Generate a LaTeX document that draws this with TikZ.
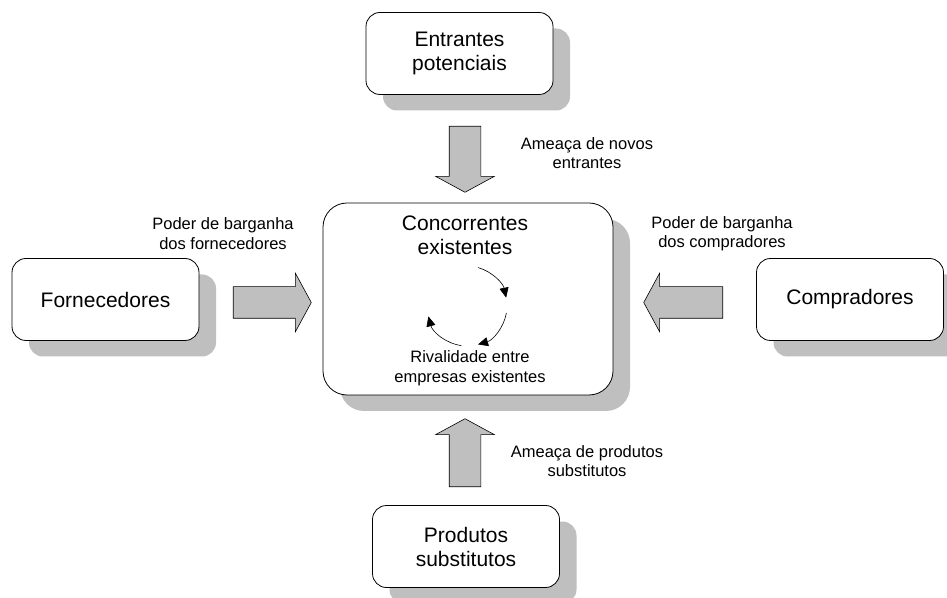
\documentclass[tikz,border=0pt]{standalone}
\usepackage{fontspec}
\setmainfont{Liberation Sans}
\usetikzlibrary{arrows.meta,shapes.arrows,shadows,positioning}

\tikzset{
  caixa/.style={draw, fill=white, line width=0.8pt, rounded corners=14pt,
    minimum width=187pt, minimum height=82pt, align=center,
    font=\fontsize{21}{24}\selectfont,
    drop shadow={shadow xshift=17pt, shadow yshift=-16pt, fill=black!25, opacity=1}},
  seta/.style={single arrow, draw, fill=black!25, line width=0.6pt,
    inner xsep=0pt, inner ysep=15.5pt, text height=0pt, text depth=0pt,
    minimum width=0pt, single arrow head extend=13.5pt, single arrow tip angle=123},
  rotulo/.style={align=center, font=\fontsize{16.5}{19.5}\selectfont},
}

\begin{document}
\begin{tikzpicture}[x=1pt,y=1pt]
\useasboundingbox (0,0) rectangle (947,597);

% caixas
\node[caixa] (entr) at (459.5,543.5) {Entrantes\\potenciais};
\node[caixa, minimum width=290pt, minimum height=192pt, rounded corners=24pt] (conc) at (468,298) {};
\node[caixa] (forn) at (105.5,297.5) {Fornecedores};
\node[caixa] (comp) at (850,297.5) {Compradores};
\node[caixa] (prod) at (466,50.5) {Produtos\\substitutos};

% setas largas
\node[seta, minimum height=66pt, rotate=-90] (sEntr) at (465,442) {};
\node[seta, minimum height=68pt, rotate=90] (sProd) at (465,140) {};
\node[seta, minimum height=78pt] (sForn) at (268,294.5) {};
\node[seta, minimum height=79pt, rotate=180] (sComp) at (687.5,294.5) {};

% textos
\node[rotulo, font=\fontsize{21}{24}\selectfont] (tConc) at (465,362) {Concorrentes\\existentes};
\node[rotulo] (tRiv) at (470,229) {Rivalidade entre\\empresas existentes};
\node[rotulo] (tEntr) at (587,444) {Ameaça de novos\\entrantes};
\node[rotulo] (tForn) at (223,363.5) {Poder de barganha\\dos fornecedores};
\node[rotulo] (tComp) at (722,363.5) {Poder de barganha\\dos compradores};
\node[rotulo] (tProd) at (587,136) {Ameaça de produtos\\substitutos};

% ciclo
\coordinate (ciclo) at (467,291);
\draw[-{Triangle[length=10pt,width=9pt]}, line width=0.6pt] ([shift={(74:40)}]ciclo) arc (74:12:40);
\draw[-{Triangle[length=10pt,width=9pt]}, line width=0.6pt] ([shift={(-10:40)}]ciclo) arc (-10:-74:40);
\draw[-{Triangle[length=10pt,width=9pt]}, line width=0.6pt] ([shift={(-98:40)}]ciclo) arc (-98:-165:40);
\end{tikzpicture}
\end{document}
